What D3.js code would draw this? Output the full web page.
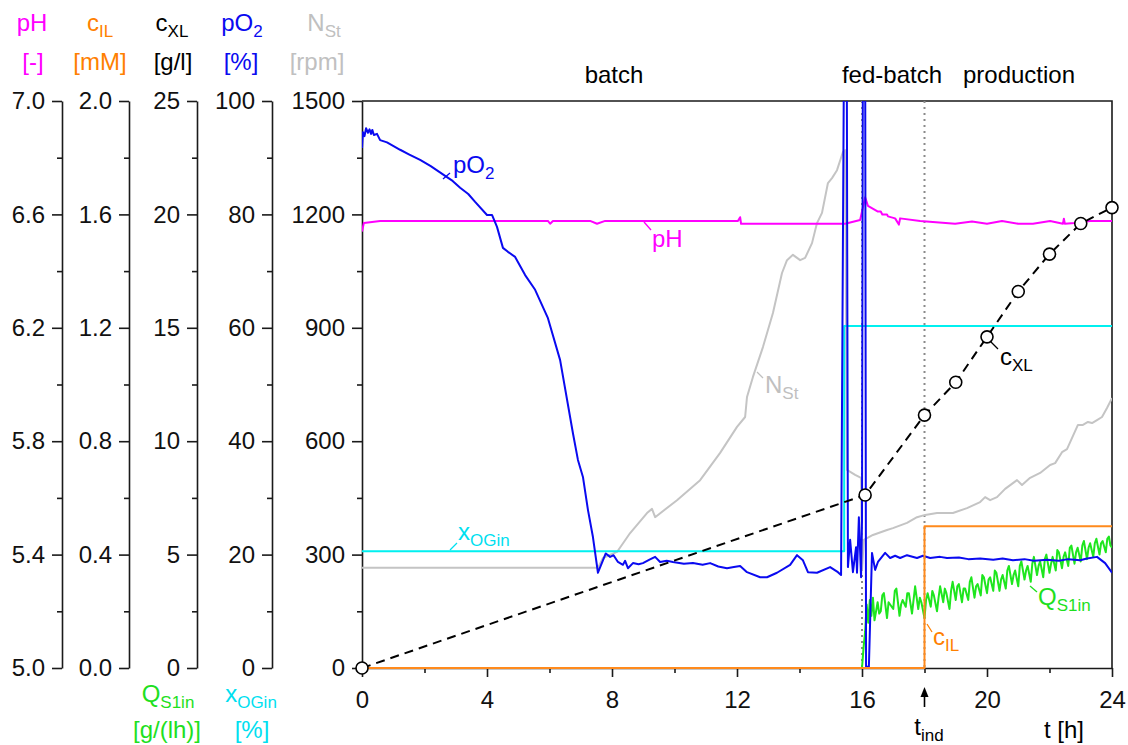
<!DOCTYPE html>
<html><head><meta charset="utf-8">
<script src="https://cdn.jsdelivr.net/npm/d3@7"></script>
<style>body{margin:0;background:#fff}svg{display:block;font-family:"Liberation Sans",Arial,sans-serif}</style>
</head><body><svg id="c" width="1128" height="745"></svg>
<script>
// ---------- tick values / labels ----------
const timeTicks = [0,4,8,12,16,20,24];
const timeMinor = [2,6,10,14,18,22];
const phTicks = [5.0,5.4,5.8,6.2,6.6,7.0];
const phMinor = [5.2,5.6,6.0,6.4,6.8];
const cilTicks = [0,0.4,0.8,1.2,1.6,2.0];
const cilMinor = [0.2,0.6,1.0,1.4,1.8];
const cxlTicks = [0,5,10,15,20,25];
const cxlMinor = [2.5,7.5,12.5,17.5,22.5];
const po2Ticks = [0,20,40,60,80,100];
const po2Minor = [10,30,50,70,90];
const nTicks = [0,300,600,900,1200,1500];
const nMinor = [150,450,750,1050,1350];
const phases = ["batch","fed-batch","production"];

// ---------- series (t [h], value) ----------
const nSt = [[0,265],[7.55,265],[7.71,291],[8.16,307],[8.58,357],[9.12,410],[9.28,421],[9.38,399],[10.08,444],[10.82,497],[11.46,569],[12.0,638],[12.26,664],[12.32,717],[12.51,770],[12.83,849],[13.15,939],[13.44,1045],[13.6,1079],[13.79,1093],[14.02,1079],[14.18,1085],[14.4,1124],[14.56,1177],[14.72,1204],[14.91,1283],[15.04,1296],[15.2,1317],[15.39,1365],[15.46,1370],[15.52,524],[15.78,511],[15.97,503],[16.0,259],[16.06,339],[16.35,352],[16.8,365],[16.99,370],[17.44,384],[17.76,399],[18.02,405],[18.4,410],[18.91,410],[19.36,423],[19.78,439],[19.94,452],[20.1,444],[20.32,452],[20.58,474],[20.96,497],[21.12,484],[21.38,503],[21.7,516],[22.02,537],[22.18,542],[22.4,571],[22.56,579],[22.91,643],[23.07,643],[23.23,651],[23.36,648],[23.52,656],[23.68,664],[23.84,688],[24.0,714]];

const pO2 = [[0,91.7],[0.03,94.5],[0.08,93.8],[0.13,95.2],[0.19,94.4],[0.24,95.0],[0.29,94.2],[0.33,94.9],[0.38,94.0],[0.48,94.2],[0.58,93.1],[0.8,92.7],[1.22,91.4],[1.5,90.6],[1.86,89.6],[2.2,88.5],[2.66,86.8],[2.9,85.9],[3.14,84.7],[3.4,83.6],[3.62,82.2],[4.0,79.9],[4.16,79.9],[4.32,77.8],[4.51,74.1],[4.67,73.4],[4.9,72.5],[5.22,69.3],[5.54,66.7],[5.95,61.7],[6.34,54.3],[6.75,41.4],[6.91,36.7],[7.07,33.7],[7.23,27.9],[7.39,23.1],[7.55,16.8],[7.71,19.0],[7.8,20.2],[7.94,19.6],[8.05,19.9],[8.19,18.7],[8.35,18.2],[8.42,18.9],[8.51,17.6],[8.67,18.5],[8.85,18.3],[8.99,18.5],[9.2,19.1],[9.38,19.6],[9.54,18.7],[9.75,18.9],[9.95,18.7],[10.3,18.4],[10.59,18.5],[10.9,18.2],[11.14,18.5],[11.4,17.9],[11.68,17.6],[11.9,17.8],[12.1,18.0],[12.32,16.9],[12.74,16.0],[12.96,16.0],[13.28,16.8],[13.7,18.2],[13.92,19.9],[14.11,19.0],[14.27,16.9],[14.56,16.8],[14.98,17.8],[15.23,16.9],[15.33,16.4],[15.43,115],[15.51,115],[15.55,17.8],[15.62,22.6],[15.71,16.9],[15.81,21.3],[15.84,16.8],[15.9,26.6],[15.97,16.0],[16.0,26.1],[16.03,115],[16.1,115],[16.13,0.2],[16.22,0.2],[16.32,20.3],[16.42,17.3],[16.51,18.7],[16.74,20.3],[16.9,19.4],[17.06,19.8],[17.22,19.4],[17.44,19.9],[17.76,19.4],[17.95,19.8],[18.18,19.4],[18.5,19.6],[18.72,19.4],[19.1,19.5],[19.4,19.2],[19.78,19.3],[20.2,19.1],[20.5,19.3],[20.83,19.0],[21.2,19.2],[21.5,18.9],[21.92,19.1],[22.3,18.9],[22.6,19.2],[22.98,19.0],[23.2,19.3],[23.52,19.6],[23.78,18.5],[24.0,16.8]];

const pH = [[0,6.54],[0.06,6.57],[0.58,6.577],[5.95,6.577],[6.02,6.567],[6.11,6.577],[7.3,6.577],[7.52,6.567],[7.78,6.577],[12.03,6.577],[12.1,6.59],[12.13,6.567],[15.46,6.567],[15.94,6.58],[16.1,6.66],[16.19,6.63],[16.51,6.61],[16.6,6.61],[16.65,6.60],[16.8,6.60],[16.83,6.593],[17.06,6.586],[17.18,6.564],[17.22,6.586],[17.86,6.577],[18.98,6.567],[19.52,6.575],[20.0,6.567],[20.48,6.577],[21.0,6.567],[21.47,6.567],[22.02,6.577],[22.43,6.567],[22.46,6.585],[22.49,6.567],[22.8,6.57],[23.3,6.577],[24,6.577]];

const cXL = [[0,0],[16.1,7.63],[18,11.15],[19,12.6],[20,14.6],[21,16.6],[22,18.25],[23,19.6],[24,20.3]];

const xOGin = [[0,20.6],[15.43,20.6],[15.43,60.3],[24,60.3]];

const cIL = [[0,0],[18,0],[18,0.5],[24,0.5]];

const qS1in = [[16.0,0],[16.05,0.9],[16.1,1.6],[16.15,2.8],[16.2,2.0],[16.25,3.0],[16.3,2.3],[16.35,3.1],[16.4,2.1],[16.5,2.9],[16.55,2.4],[16.6,2.5],[16.65,3.2],[16.7,3.3],[16.8,2.2],[16.85,2.9],[16.9,2.8],[17.0,2.6],[17.05,3.4],[17.1,3.5],[17.2,2.3],[17.25,2.8],[17.3,3.0],[17.4,2.7],[17.45,3.3],[17.5,3.3],[17.6,2.4],[17.65,3.0],[17.7,3.6],[17.8,2.6],[17.85,3.1],[17.9,2.9],[18.0,2.2],[18.05,3.0],[18.1,3.3],[18.2,2.7],[18.25,3.4],[18.3,3.2],[18.4,2.5],[18.45,3.1],[18.5,3.6],[18.6,2.9],[18.65,3.5],[18.7,3.3],[18.8,2.6],[18.85,3.4],[18.9,3.8],[19.0,3.0],[19.05,3.6],[19.1,3.7],[19.2,2.9],[19.25,3.5],[19.3,3.5],[19.4,3.0],[19.45,3.8],[19.5,4.0],[19.6,3.1],[19.65,3.6],[19.7,3.7],[19.8,3.2],[19.85,4.1],[19.9,4.0],[20.0,3.3],[20.05,3.9],[20.1,4.0],[20.2,3.4],[20.25,4.3],[20.3,4.2],[20.4,3.4],[20.45,3.9],[20.5,4.1],[20.6,3.5],[20.65,4.3],[20.7,4.5],[20.8,3.7],[20.85,4.1],[20.9,4.3],[21.0,3.6],[21.05,4.5],[21.1,4.7],[21.2,3.9],[21.25,4.3],[21.3,4.5],[21.4,3.8],[21.45,4.6],[21.5,4.9],[21.6,4.1],[21.65,4.5],[21.7,4.7],[21.8,4.0],[21.85,4.8],[21.9,5.0],[22.0,4.2],[22.05,4.6],[22.1,4.9],[22.2,4.3],[22.25,5.2],[22.3,5.1],[22.4,4.4],[22.45,4.9],[22.5,5.1],[22.6,4.5],[22.65,5.3],[22.7,5.4],[22.8,4.6],[22.85,5.1],[22.9,5.3],[23.0,4.7],[23.05,5.4],[23.1,5.6],[23.2,4.8],[23.25,5.3],[23.3,5.5],[23.4,4.9],[23.45,5.5],[23.5,5.7],[23.6,5.0],[23.65,5.5],[23.7,5.6],[23.8,5.1],[23.85,5.7],[23.9,5.8],[23.95,5.4],[24.0,5.3]];

const markerTimes = [16, 18]; // dotted verticals (fed-batch start, t_ind)

// ---------- layout ----------
const svg = d3.select('#c');
const L = 362, R = 1112, T = 101, B = 668;
const FONT = 24, SUB = 17;
const x = d3.scaleLinear().domain([0,24]).range([L,R]);
const yN = d3.scaleLinear().domain([0,1500]).range([B,T]);
const yP = d3.scaleLinear().domain([0,100]).range([B,T]);
const yPH = d3.scaleLinear().domain([5,7]).range([B,T]);
const yIL = d3.scaleLinear().domain([0,2]).range([B,T]);
const yXL = d3.scaleLinear().domain([0,25]).range([B,T]);

const C = {pH:'#ff00ff', il:'#ff8a1c', xl:'#000', po2:'#0a0af0', n:'#c4c4c4', q:'#1ee61e', og:'#00f0f0',
           ilT:'#ff8000', nT:'#c0c0c0', qT:'#1ee01e', ogT:'#00e0f0'};

function styleAxis(g){
  g.selectAll('path,line').attr('stroke','#1a1a1a').attr('stroke-width',1.6);
  g.selectAll('text').attr('font-size',FONT).attr('font-family','"Liberation Sans",Arial,sans-serif').attr('fill','#111');
  g.attr('font-size',null).attr('font-family',null);
}
function leftAxis(xPos, scale, major, minor, fmt){
  const g = svg.append('g').attr('transform',`translate(${xPos},0)`);
  g.call(d3.axisLeft(scale).tickValues(major).tickFormat(fmt).tickSize(10).tickSizeOuter(0).tickPadding(7));
  const m = svg.append('g').attr('transform',`translate(${xPos},0)`);
  m.call(d3.axisLeft(scale).tickValues(minor).tickFormat('').tickSize(5).tickSizeOuter(0));
  m.select('.domain').remove();
  styleAxis(g); styleAxis(m);
}
leftAxis(62, yPH, phTicks, phMinor, d3.format('.1f'));
leftAxis(129, yIL, cilTicks, cilMinor, d3.format('.1f'));
leftAxis(197, yXL, cxlTicks, cxlMinor, d3.format('d'));
leftAxis(272, yP, po2Ticks, po2Minor, d3.format('d'));
leftAxis(L, yN, nTicks, nMinor, d3.format('d'));

// bottom axis
{
  const g = svg.append('g').attr('transform',`translate(0,${B})`);
  g.call(d3.axisBottom(x).tickValues(timeTicks).tickFormat(d3.format('d')).tickSize(9).tickSizeOuter(0).tickPadding(14));
  const m = svg.append('g').attr('transform',`translate(0,${B})`);
  m.call(d3.axisBottom(x).tickValues(timeMinor).tickFormat('').tickSize(5).tickSizeOuter(0));
  m.select('.domain').remove();
  styleAxis(g); styleAxis(m);
}
// frame top/right
svg.append('path').attr('d',`M${L},${T}H${R}V${B}`).attr('fill','none').attr('stroke','#1a1a1a').attr('stroke-width',1.6);

// clip
svg.append('clipPath').attr('id','clip').append('rect').attr('x',L).attr('y',T).attr('width',R-L).attr('height',B-T+3);
const plot = svg.append('g').attr('clip-path','url(#clip)');

// dotted verticals
plot.selectAll('line.mk').data(markerTimes).enter().append('line')
  .attr('x1',d=>x(d)).attr('x2',d=>x(d)).attr('y1',T).attr('y2',B)
  .attr('stroke','#8a8a8a').attr('stroke-width',2).attr('stroke-dasharray','2,4');

function drawLine(data, ys, color, w, dash){
  const line = d3.line().x(d=>x(d[0])).y(d=>ys(d[1]));
  const p = plot.append('path').datum(data).attr('d',line).attr('fill','none')
    .attr('stroke',color).attr('stroke-width',w).attr('stroke-linejoin','round');
  if(dash) p.attr('stroke-dasharray',dash);
  return p;
}
drawLine(nSt, yN, C.n, 2);
drawLine(xOGin, yP, C.og, 2);
drawLine(pH, yPH, C.pH, 2);
drawLine(qS1in, yXL, C.q, 2);
drawLine(pO2, yP, C.po2, 2);
drawLine(cIL, yIL, C.il, 2);
drawLine(cXL, yXL, C.xl, 2, '9,6');

svg.append('g').selectAll('circle').data(cXL).enter().append('circle')
  .attr('cx',d=>x(d[0])).attr('cy',d=>yXL(d[1])).attr('r',6)
  .attr('fill','#fff').attr('stroke','#000').attr('stroke-width',1.6);

// ---------- text helpers ----------
function label(px, py, main, sub, color, anchor, size, subSize, subDy){
  const t = svg.append('text').attr('x',px).attr('y',py).attr('fill',color)
    .attr('font-size',size||FONT).attr('text-anchor',anchor||'start');
  t.append('tspan').text(main);
  if(sub){ t.append('tspan').attr('dy',subDy||6).attr('font-size',subSize||SUB).text(sub); }
  return t;
}
function leader(x1,y1,x2,y2,color){
  svg.append('line').attr('x1',x1).attr('y1',y1).attr('x2',x2).attr('y2',y2)
    .attr('stroke',color).attr('stroke-width',1.3);
}

// headers
label(32,31,'pH',null,C.pH,'middle');
label(100,31,'c','IL',C.ilT,'middle');
label(172,31,'c','XL','#000','middle');
label(242,31,'pO','2',C.po2,'middle');
label(324,31,'N','St',C.nT,'middle');
label(33,70,'[-]',null,C.pH,'middle');
label(100,70,'[mM]',null,C.ilT,'middle');
label(173,70,'[g/l]',null,'#000','middle');
label(241,70,'[%]',null,C.po2,'middle');
label(317,70,'[rpm]',null,C.nT,'middle');
// bottom headers
label(168,702,'Q','S1in',C.qT,'middle');
label(251,702,'x','OGin',C.ogT,'middle');
label(167,738,'[g/(lh)]',null,C.qT,'middle');
label(252,738,'[%]',null,C.ogT,'middle');

// phase labels
const phaseX = [614, 892, 1019];
phases.forEach((p,i)=> label(phaseX[i],83,p,null,'#000','middle'));

// x-axis title and t_ind
label(1064,738,'t [h]',null,'#000','middle');
label(929,735,'t','ind','#000','middle');
svg.append('line').attr('x1',x(18)).attr('x2',x(18)).attr('y1',707).attr('y2',694).attr('stroke','#000').attr('stroke-width',1.6);
svg.append('path').attr('d',`M${x(18)},687 l-4,10 h8 z`).attr('fill','#000');

// in-plot annotations
leader(443,179,450,173,C.po2); label(453,173,'pO','2',C.po2);
leader(644,222,651,230,C.pH); label(652,247,'pH',null,C.pH);
leader(757,372,763,378,C.nT); label(765,393,'N','St',C.nT);
leader(990,341,998,349,'#000'); label(1000,365,'c','XL','#000');
leader(450,550,457,543,C.ogT); label(458,540,'x','OGin',C.ogT);
leader(1030,586,1037,592,C.qT); label(1038,605,'Q','S1in',C.qT);
leader(927,624,932,632,C.ilT); label(933,645,'c','IL',C.ilT);
</script></body></html>
